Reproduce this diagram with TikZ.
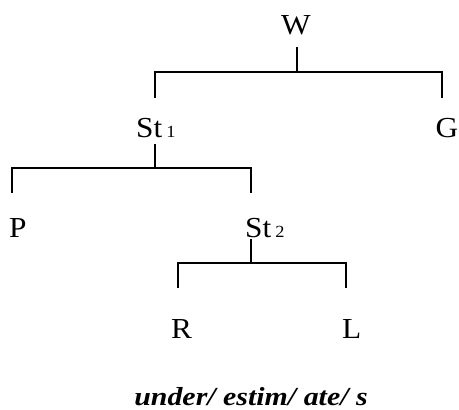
\documentclass[tikz,border=0pt]{standalone}
\usepackage{fontspec}
\setmainfont{Liberation Serif}[FakeStretch=1.08]
\newfontfamily\wordfont{Liberation Serif}[FakeStretch=1.15]
\begin{document}
\begin{tikzpicture}[x=1pt,y=-1pt,
  lbl/.style={inner sep=0pt,anchor=base west,font=\fontsize{29}{31}\selectfont},
  conn/.style={line width=1.6pt,line cap=rect},
  word/.style={inner sep=0pt,anchor=base,font=\wordfont\fontsize{26}{28}\selectfont\bfseries\itshape}]
\newcommand{\subdigit}[1]{\hspace{4pt}{\fontsize{17}{19}\selectfont #1}}
\useasboundingbox (0,0) rectangle (459,410);
% labels
\node[lbl,anchor=base] (W) at (296,34) {W};
\node[lbl] (St1) at (136,137) {St\subdigit{1}};
\node[lbl,anchor=base east] (G) at (458.5,137) {G};
\node[lbl] (P) at (9,237) {P};
\node[lbl] (St2) at (245,237) {St\subdigit{2}};
\node[lbl] (R) at (171,338) {R};
\node[lbl] (L) at (342,338) {L};
\node[word] (word) at (251,405) {under/ estim/ ate/ s};
% junction coordinates
\coordinate (Wt) at (297,48);
\coordinate (Wj) at (297,72);
\coordinate (St1u) at (155,97);
\coordinate (Gu) at (442,97);
\coordinate (St1t) at (155,145);
\coordinate (St1j) at (155,168);
\coordinate (Pu) at (12,192);
\coordinate (St2u) at (251,192);
\coordinate (St2t) at (251,240);
\coordinate (St2j) at (251,263);
\coordinate (Ru) at (178,287);
\coordinate (Lu) at (346,287);
% connectors
\draw[conn] (Wt) -- (Wj);
\draw[conn] (St1u) |- (Wj) -| (Gu);
\draw[conn] (St1t) -- (St1j);
\draw[conn] (Pu) |- (St1j) -| (St2u);
\draw[conn] (St2t) -- (St2j);
\draw[conn] (Ru) |- (St2j) -| (Lu);
\end{tikzpicture}
\end{document}
